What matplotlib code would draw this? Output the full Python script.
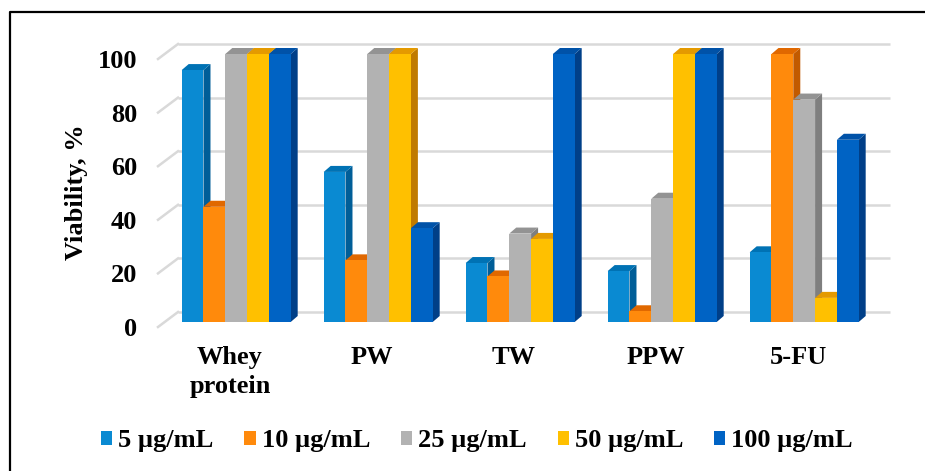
import matplotlib
matplotlib.use("Agg")
import matplotlib.pyplot as plt
from matplotlib.patches import Polygon, Patch
from matplotlib.lines import Line2D

# ---- data ----
categories = ["Whey\nprotein", "PW", "TW", "PPW", "5-FU"]
series_names = ["5 \u00b5g/mL", "10 \u00b5g/mL", "25 \u00b5g/mL", "50 \u00b5g/mL", "100 \u00b5g/mL"]
s5 = [94, 56, 22, 19, 26]
s10 = [43, 23, 17, 4, 100]
s25 = [100, 100, 33, 46, 83]
s50 = [100, 100, 31, 100, 9]
s100 = [100, 35, 100, 100, 68]
yticks = [0, 20, 40, 60, 80, 100]

series = [s5, s10, s25, s50, s100]
front_cols = ["#0A8AD2", "#FF8A0C", "#B2B2B2", "#FFC000", "#0063C4"]
side_cols = ["#005E98", "#C25A00", "#7F7F7F", "#C07A00", "#003F88"]
top_cols = ["#0072B4", "#E06800", "#939393", "#E49A00", "#0052A8"]

plt.rcParams['font.family'] = ['Liberation Serif', 'DejaVu Serif']
plt.rcParams['font.weight'] = 'bold'
FS = 19

fig = plt.figure(figsize=(9.25, 4.71), dpi=100)
W, H = 925, 471
L, R, T, B = 145, 900, 30, 335
ax = fig.add_axes([L / W, 1 - B / H, (R - L) / W, (B - T) / H])

pxu_x = 142.0
pxu_y = 2.68
cx0 = 236.0
y0px = 322.0
ax.set_xlim((L - cx0) / pxu_x, (R - cx0) / pxu_x)
ax.set_ylim((y0px - B) / pxu_y, (y0px - T) / pxu_y)

bw = 21.8 / pxu_x
grp_left = -0.3825
dx = 7 / pxu_x
dy = 6 / pxu_y

back_dy = 10 / pxu_y
front_dy = -5 / pxu_y
wall_x0 = (178 - cx0) / pxu_x
wall_x1 = (890 - cx0) / pxu_x
floor_x0 = (158 - cx0) / pxu_x
gcol = "#D9D9D9"
for v in yticks:
    ax.plot([wall_x0, wall_x1], [v + back_dy, v + back_dy], color=gcol, lw=1.8, zorder=1,
            solid_capstyle='butt')
    ax.plot([floor_x0, wall_x0], [v + front_dy, v + back_dy], color=gcol, lw=1.8, zorder=1)

for i in range(len(categories)):
    for j, vals in enumerate(series):
        v = vals[i]
        x0 = i + grp_left + j * bw
        z = 3 + i * 10 + j
        side = Polygon([(x0 + bw, 0), (x0 + bw + dx, dy), (x0 + bw + dx, v + dy), (x0 + bw, v)],
                       closed=True, facecolor=side_cols[j], edgecolor='none', zorder=z)
        top = Polygon([(x0, v), (x0 + bw, v), (x0 + bw + dx, v + dy), (x0 + dx, v + dy)],
                      closed=True, facecolor=top_cols[j], edgecolor='none', zorder=z)
        ax.add_patch(side)
        ax.add_patch(top)
        ax.bar(x0, v, width=bw, align='edge', color=front_cols[j], edgecolor='none',
               linewidth=0, zorder=z + 0.5)

ax.set_yticks([v + front_dy for v in yticks], [str(v) for v in yticks])
ax.set_xticks([i - 6 / pxu_x for i in range(len(categories))], categories)
ax.tick_params(axis='y', length=0, pad=5.8, labelsize=FS)
ax.tick_params(axis='x', length=0, pad=8.0, labelsize=FS)
for lbl in ax.get_xticklabels():
    lbl.set_linespacing(1.3)
for s in ax.spines.values():
    s.set_visible(False)
ax.set_ylabel("Viability, %", fontsize=FS, fontweight='bold')
ax.yaxis.set_label_coords((88 - L) / (R - L), (B - 192) / (B - T))

handles = [Patch(facecolor=c, edgecolor='none') for c in front_cols]
fig.legend(handles, series_names, loc='center', bbox_to_anchor=(477 / W, 1 - 441 / H),
           ncol=5, frameon=False, fontsize=FS, handlelength=0.42, handleheight=0.42,
           handletextpad=0.23, columnspacing=1.17, borderpad=0, borderaxespad=0)

# outer frame: left and top edges visible (extends past the right/bottom edges)
fig.add_artist(Line2D([10 / W, 10 / W, 1.05], [-0.05, 1 - 12 / H, 1 - 12 / H],
                      transform=fig.transFigure, color='black', lw=1.6))

fig.savefig("out.png", dpi=100)
